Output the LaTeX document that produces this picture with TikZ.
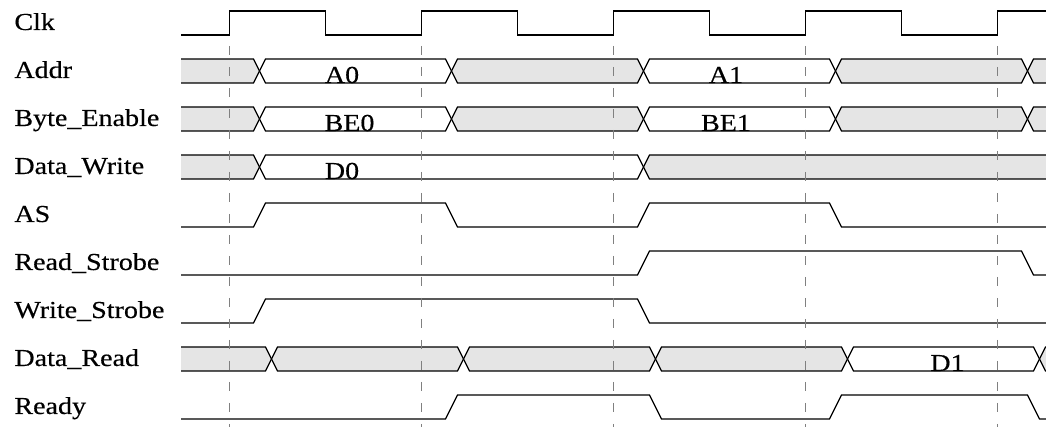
\documentclass[tikz,border=0pt]{standalone}
\usepackage{fontspec}
\setmainfont[FakeStretch=1.15, FakeBold=0.4]{Liberation Serif}
\definecolor{busGray}{RGB}{229,229,229}
\definecolor{gridGray}{RGB}{128,128,128}

% one bus value between two crossings: top y, from x, to x
\newcommand{\busseg}[4][busGray]{%
  \filldraw[sig, fill=#1] (#3,#2+12) -- (#3+6,#2) -- (#4-6,#2) -- (#4,#2+12)
    -- (#4-6,#2+24) -- (#3+6,#2+24) -- cycle;}

\begin{document}
\begin{tikzpicture}[x=0.5pt, y=-0.5pt,
    sig/.style={line width=0.6pt, line join=miter},
    grid/.style={gridGray, line width=0.55pt, dash pattern=on 4.5pt off 6pt},
    lbl/.style={anchor=base west, inner sep=0pt, font=\fontsize{12.2pt}{14pt}\selectfont},
    val/.style={anchor=base, inner sep=0pt, font=\fontsize{12.2pt}{14pt}\selectfont}
  ]
  \useasboundingbox (0,0) rectangle (1046,427);

  % Signal names
  \node[lbl] (clk)   at (14, 30) {Clk};
  \node[lbl] (addr)  at (14, 78) {Addr};
  \node[lbl] (be)    at (14,126) {Byte\_Enable};
  \node[lbl] (dwr)   at (14,174) {Data\_Write};
  \node[lbl] (as)    at (14,222) {AS};
  \node[lbl] (rds)   at (14,270) {Read\_Strobe};
  \node[lbl] (wrs)   at (14,318) {Write\_Strobe};
  \node[lbl] (drd)   at (14,366) {Data\_Read};
  \node[lbl] (ready) at (14,414) {Ready};

  \begin{scope}
    \clip (181,0) rectangle (1046,427);
    % Clk
    \draw[sig] (181,35) \foreach \k in {0,...,4} {
      -- (229.5+192*\k,35) -- ++(0,-24) -- ++(96,0) -- ++(0,24) };
    % Addr / Byte_Enable
    \foreach \top in {59,107} {
      \busseg{\top}{150}{259.5}
      \busseg[white]{\top}{259.5}{451.5}
      \busseg{\top}{451.5}{643.5}
      \busseg[white]{\top}{643.5}{835.5}
      \busseg{\top}{835.5}{1027.5}
      \busseg{\top}{1027.5}{1100}
    }
    % Data_Write
    \busseg{155}{150}{259.5}
    \busseg[white]{155}{259.5}{643.5}
    \busseg{155}{643.5}{1100}
    % AS, Read_Strobe, Write_Strobe
    \draw[sig] (150,227) -- (253.5,227) -- (265.5,203) -- (445.5,203) -- (457.5,227)
      -- (637.5,227) -- (649.5,203) -- (829.5,203) -- (841.5,227) -- (1100,227);
    \draw[sig] (150,275) -- (637.5,275) -- (649.5,251) -- (1021.5,251) -- (1033.5,275)
      -- (1100,275);
    \draw[sig] (150,323) -- (253.5,323) -- (265.5,299) -- (637.5,299) -- (649.5,323)
      -- (1100,323);
    % Data_Read
    \busseg{347}{150}{271.5}
    \busseg{347}{271.5}{463.5}
    \busseg{347}{463.5}{655.5}
    \busseg{347}{655.5}{847.5}
    \busseg[white]{347}{847.5}{1039.5}
    \busseg{347}{1039.5}{1100}
    % Ready
    \draw[sig] (150,419) -- (445.5,419) -- (457.5,395) -- (649.5,395) -- (661.5,419)
      -- (829.5,419) -- (841.5,395) -- (1027.5,395) -- (1039.5,419) -- (1100,419);
  \end{scope}

  % Bus values
  \node[val] (a0)  at (342, 83) {A0};
  \node[val] (a1)  at (726, 83) {A1};
  \node[val] (be0) at (349.5,131) {BE0};
  \node[val] (be1) at (726,131) {BE1};
  \node[val] (d0)  at (342,179) {D0};
  \node[val] (d1)  at (947.5,371) {D1};

  % Clock edges
  \foreach \k in {0,...,4}
    \draw[grid] (229.5+192*\k,46) -- (229.5+192*\k,427);
\end{tikzpicture}
\end{document}
